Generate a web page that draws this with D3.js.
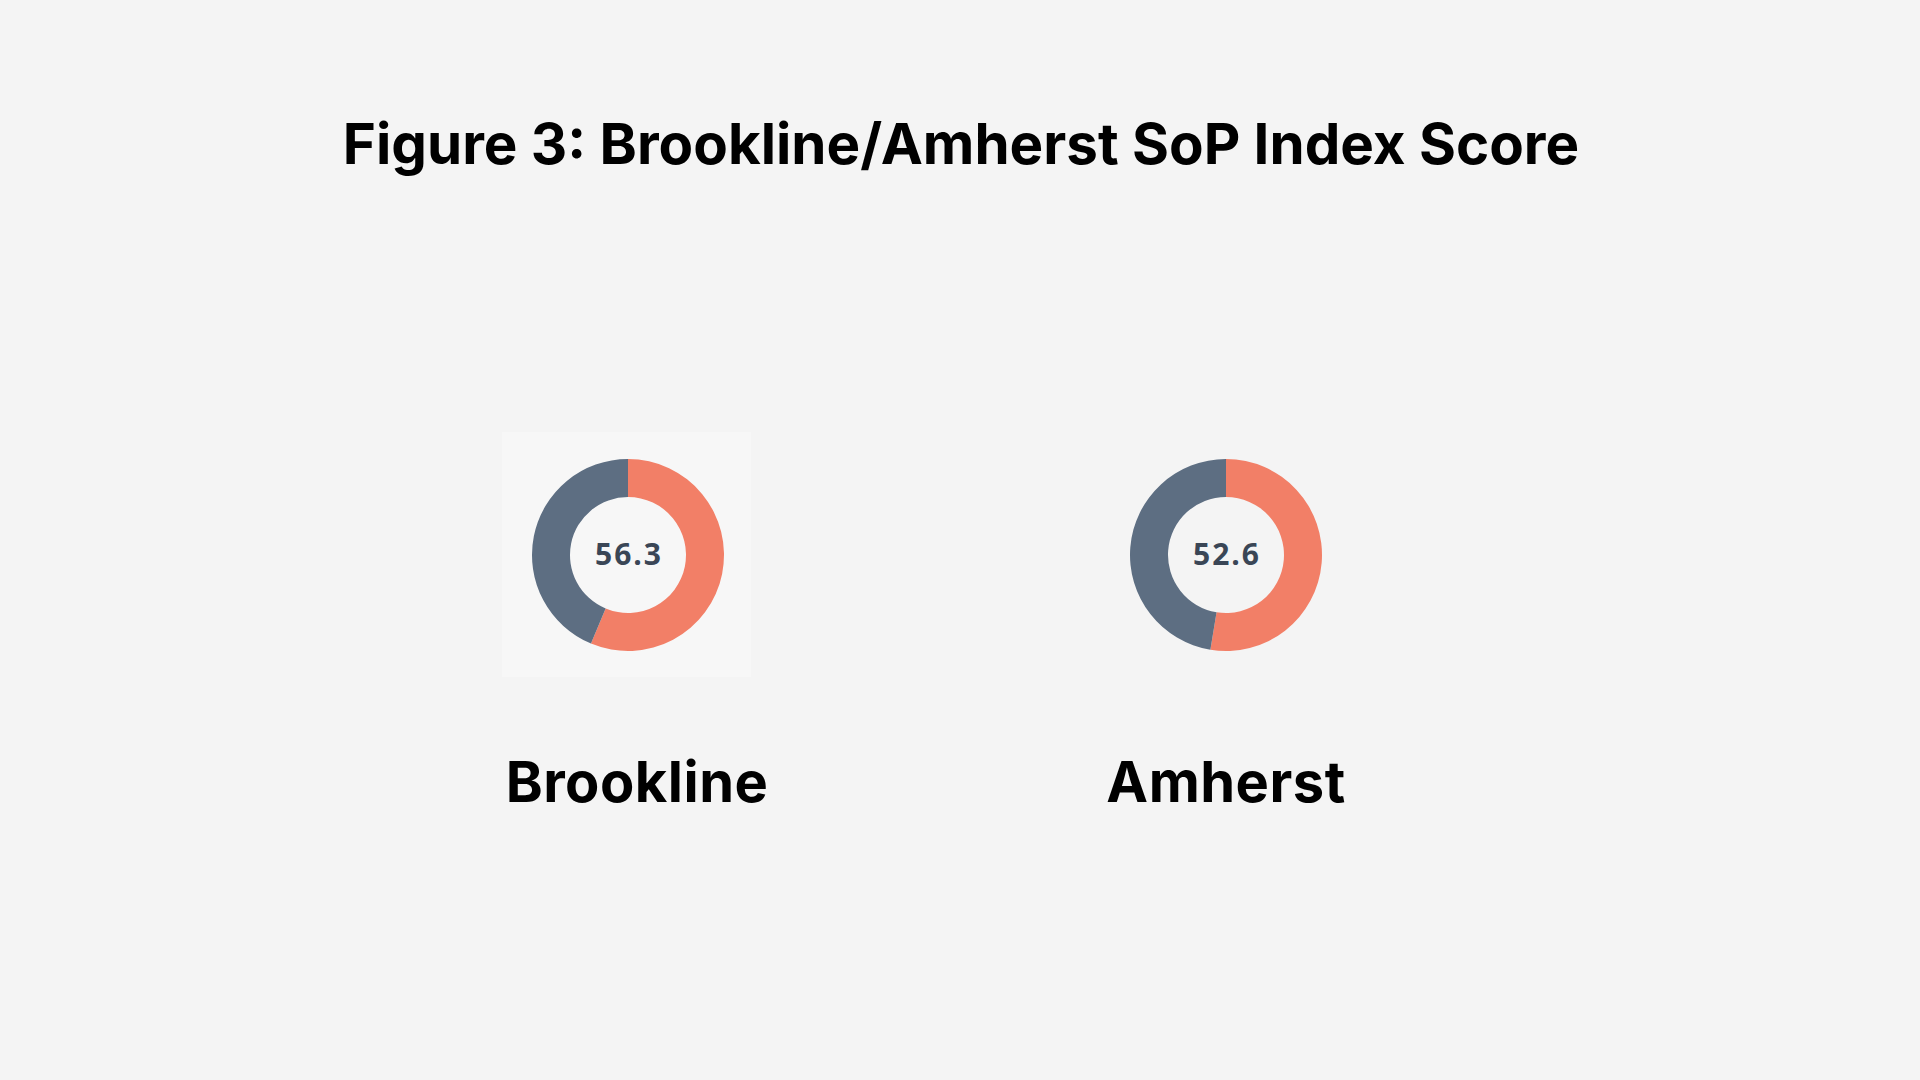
<!DOCTYPE html>
<html lang="en">
<head>
    <meta charset="UTF-8">
    <title>Figure 3: Brookline/Amherst SoP Index Score</title>
    <script src="https://d3js.org/d3.v7.min.js"></script>
    <style>
        body {
            margin: 0;
            background-color: #f4f4f4;
        }
        svg {
            display: block;
        }
        .title {
            font-family: Inter, "Liberation Sans", sans-serif;
            font-weight: 700;
            font-size: 56.5px;
            fill: #000;
        }
        .city-label {
            font-family: Inter, "Liberation Sans", sans-serif;
            font-weight: 700;
            font-size: 56px;
            letter-spacing: 0.5px;
            fill: #000;
        }
        .score {
            font-family: "Open Sans", sans-serif;
            font-weight: 700;
            font-size: 30px;
            fill: #3a4656;
            letter-spacing: 2px;
        }
    </style>
</head>
<body>
    <svg id="chart"></svg>

    <script>
        // chart data
        const cities = ["Brookline", "Amherst"];
        const scores = [56.3, 52.6];
        const scoreMax = 100;

        const width = 1920;
        const height = 1080;

        const svg = d3.select("#chart")
            .attr("width", width)
            .attr("height", height);

        svg.append("rect")
            .attr("width", width)
            .attr("height", height)
            .attr("fill", "#f4f4f4");

        // Title
        svg.append("text")
            .attr("class", "title")
            .attr("x", 961)
            .attr("y", 164)
            .attr("text-anchor", "middle")
            .text("Figure 3: Brookline/Amherst SoP Index Score");

        // horizontal position of each donut
        const x = d3.scalePoint()
            .domain(cities)
            .range([628, 1226]);

        const cy = 555;
        const outerR = 96;
        const innerR = 58;

        const pie = d3.pie()
            .sort(null)
            .value(d => d);

        const arc = d3.arc()
            .innerRadius(innerR)
            .outerRadius(outerR);

        const colors = ["#f27f67", "#5d6e82"];

        cities.forEach((city, i) => {
            const g = svg.append("g")
                .attr("transform", `translate(${x(city)},${cy})`);

            // the first donut sits on a slightly lighter square (pasted image)
            if (i === 0) {
                g.append("rect")
                    .attr("x", -126)
                    .attr("y", -123)
                    .attr("width", 249)
                    .attr("height", 245)
                    .attr("fill", "#f7f7f7");
            }

            g.selectAll("path")
                .data(pie([scores[i], scoreMax - scores[i]]))
                .join("path")
                .attr("d", arc)
                .attr("fill", (d, j) => colors[j]);

            g.append("text")
                .attr("class", "score")
                .attr("x", 1)
                .attr("y", 10)
                .attr("text-anchor", "middle")
                .text(scores[i].toFixed(1));

            // city name under the donut
            svg.append("text")
                .attr("class", "city-label")
                .attr("x", x(city) + (i === 0 ? 9 : 0))
                .attr("y", 802)
                .attr("text-anchor", "middle")
                .text(city);
        });
    </script>
</body>
</html>
